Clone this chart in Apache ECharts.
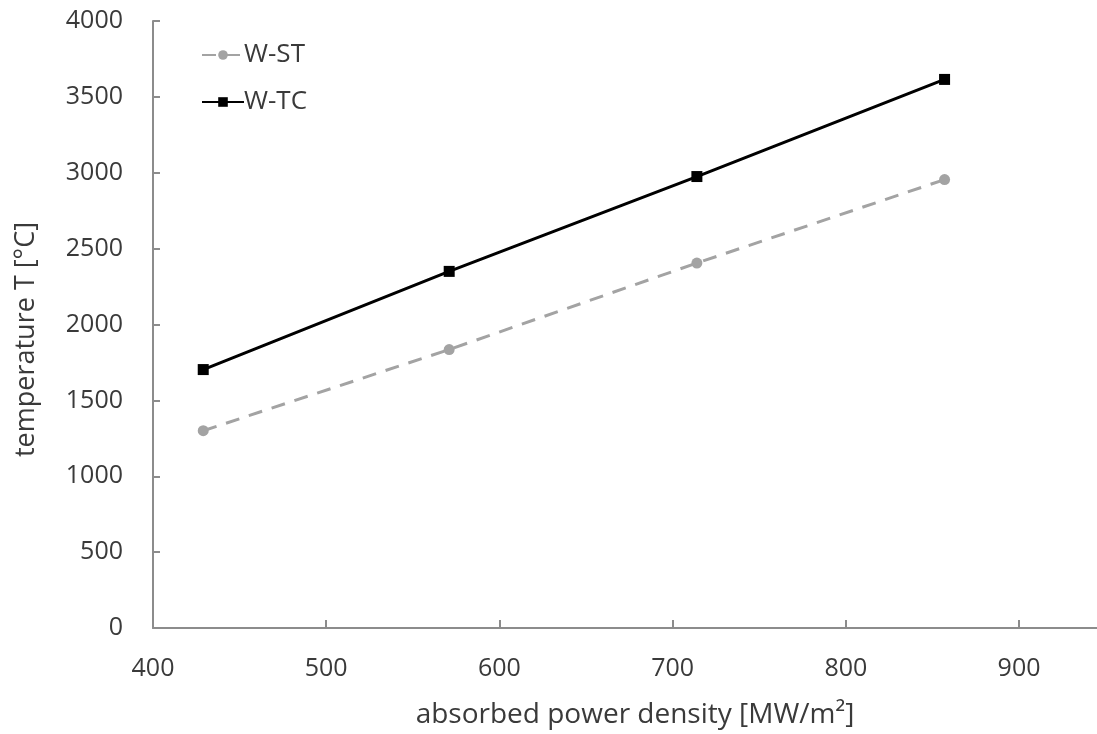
<!DOCTYPE html>
<html>
<head>
<meta charset="utf-8">
<script src="https://cdn.jsdelivr.net/npm/echarts@6/dist/echarts.min.js"></script>
<style>
html,body{margin:0;padding:0;background:#fff;}
#chart{width:1097px;height:734px;}
</style>
</head>
<body>
<div id="chart"></div>
<script>
const powerDensity = [429, 571, 714, 857];
const wST = [1300, 1835, 2405, 2955];
const wTC = [1703, 2350, 2975, 3615];
const xTicks = [400, 500, 600, 700, 800, 900];
const yTicks = [0, 500, 1000, 1500, 2000, 2500, 3000, 3500, 4000];

const chart = echarts.init(document.getElementById('chart'), null, {renderer: 'canvas'});
const font = '"Open Sans", "Liberation Sans", sans-serif';
const txt = '#3a3a3a';
const axisGray = '#8c8c8c';
const plain = v => String(v);

chart.setOption({
  animation: false,
  backgroundColor: '#ffffff',
  textStyle: {fontFamily: font},
  grid: {left: 153, right: 0, top: 21, bottom: 105, containLabel: false},
  legend: {
    orient: 'vertical',
    left: 196, top: 37,
    itemWidth: 42, itemHeight: 12, itemGap: 21,
    textStyle: {fontSize: 26, color: txt, fontFamily: font, padding: [0,0,0,-5]},
    data: ['W-ST', 'W-TC']
  },
  xAxis: {
    type: 'value', min: 400, max: 945, interval: 100,
    name: 'absorbed power density [MW/m²]',
    nameLocation: 'middle', nameGap: 73,
    nameTextStyle: {fontSize: 28, color: txt, fontFamily: font, padding: [0,0,0,20]},
    splitLine: {show: false},
    axisLine: {lineStyle: {color: axisGray, width: 2}},
    axisTick: {inside: true, length: 8, lineStyle: {color: axisGray, width: 2}, customValues: xTicks},
    axisLabel: {fontSize: 25, color: txt, margin: 28, customValues: xTicks, formatter: plain}
  },
  yAxis: {
    type: 'value', min: 0, max: 4000, interval: 500,
    name: 'temperature T [°C]',
    nameLocation: 'middle', nameGap: 113, nameRotate: 90,
    nameTextStyle: {fontSize: 27, color: txt, fontFamily: font, padding: [0,30,0,0]},
    splitLine: {show: false},
    axisLine: {show: true, lineStyle: {color: axisGray, width: 2}},
    axisTick: {show: true, inside: true, length: 7, lineStyle: {color: axisGray, width: 2}, customValues: yTicks},
    axisLabel: {fontSize: 25, color: txt, margin: 30, customValues: yTicks, formatter: plain}
  },
  series: [
    {
      name: 'W-ST', type: 'line',
      data: powerDensity.map((x, i) => [x, wST[i]]),
      symbol: 'circle', symbolSize: 11,
      itemStyle: {color: '#a3a3a3'},
      lineStyle: {color: '#a3a3a3', width: 3, type: [14, 10]},
      z: 2
    },
    {
      name: 'W-TC', type: 'line',
      data: powerDensity.map((x, i) => [x, wTC[i]]),
      symbol: 'rect', symbolSize: 11,
      itemStyle: {color: '#000000'},
      lineStyle: {color: '#000000', width: 3},
      z: 3
    }
  ]
});
</script>
</body>
</html>
